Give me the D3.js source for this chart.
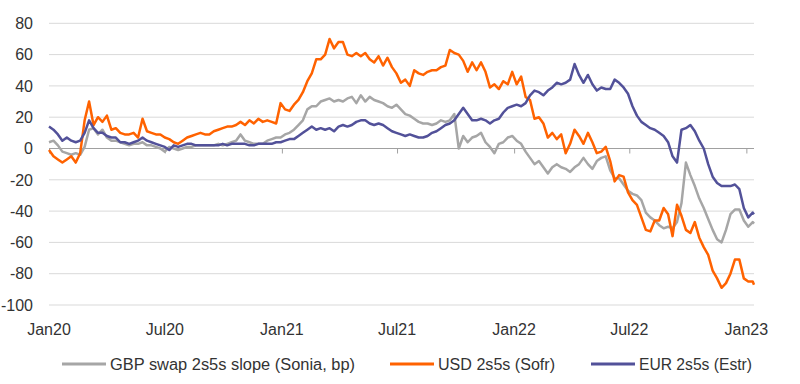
<!DOCTYPE html>
<html><head><meta charset="utf-8">
<script src="https://cdn.jsdelivr.net/npm/d3@7"></script>
<style>
html,body{margin:0;padding:0;background:#fff;}
svg{display:block;font-family:"Liberation Sans",Arial,sans-serif;}
</style></head>
<body><svg id="c" width="800" height="384"></svg>
<script>
const dates = [
"2020-01-01","2020-01-08","2020-01-15","2020-01-22","2020-01-29","2020-02-05","2020-02-12","2020-02-19","2020-02-26","2020-03-04",
"2020-03-11","2020-03-18","2020-03-25","2020-04-01","2020-04-08","2020-04-15","2020-04-22","2020-04-29","2020-05-06","2020-05-13",
"2020-05-20","2020-05-27","2020-06-03","2020-06-10","2020-06-17","2020-06-24","2020-07-01","2020-07-08","2020-07-15","2020-07-22",
"2020-07-29","2020-08-05","2020-08-12","2020-08-19","2020-08-26","2020-09-02","2020-09-09","2020-09-16","2020-09-23","2020-09-30",
"2020-10-07","2020-10-14","2020-10-21","2020-10-28","2020-11-04","2020-11-11","2020-11-18","2020-11-25","2020-12-02","2020-12-09",
"2020-12-16","2020-12-23","2020-12-30","2021-01-06","2021-01-13","2021-01-20","2021-01-27","2021-02-03","2021-02-10","2021-02-17",
"2021-02-24","2021-03-03","2021-03-10","2021-03-17","2021-03-24","2021-03-31","2021-04-07","2021-04-14","2021-04-21","2021-04-28",
"2021-05-05","2021-05-12","2021-05-19","2021-05-26","2021-06-02","2021-06-09","2021-06-16","2021-06-23","2021-06-30","2021-07-07",
"2021-07-14","2021-07-21","2021-07-28","2021-08-04","2021-08-11","2021-08-18","2021-08-25","2021-09-01","2021-09-08","2021-09-15",
"2021-09-22","2021-09-29","2021-10-06","2021-10-13","2021-10-20","2021-10-27","2021-11-03","2021-11-10","2021-11-17","2021-11-24",
"2021-12-01","2021-12-08","2021-12-15","2021-12-22","2021-12-29","2022-01-05","2022-01-12","2022-01-19","2022-01-26","2022-02-02",
"2022-02-09","2022-02-16","2022-02-23","2022-03-02","2022-03-09","2022-03-16","2022-03-23","2022-03-30","2022-04-06","2022-04-13",
"2022-04-20","2022-04-27","2022-05-04","2022-05-11","2022-05-18","2022-05-25","2022-06-01","2022-06-08","2022-06-15","2022-06-22",
"2022-06-29","2022-07-06","2022-07-13","2022-07-20","2022-07-27","2022-08-03","2022-08-10","2022-08-17","2022-08-24","2022-08-31",
"2022-09-07","2022-09-14","2022-09-21","2022-09-28","2022-10-05","2022-10-12","2022-10-19","2022-10-26","2022-11-02","2022-11-09",
"2022-11-16","2022-11-23","2022-11-30","2022-12-07","2022-12-14","2022-12-21","2022-12-28","2023-01-04","2023-01-11","2023-01-13"];

const gbp = [
4,5,2,-2,-3,-4,-3,-4,1,12,
13,9,12,7,5,5,4,3,2,3,
3,4,2,2,1,0,-2,1,0,-1,
0,1,1,2,2,2,2,2,3,2,
3,4,5,9,5,4,3,3,3,5,
6,7,7,9,10,12,15,18,25,27,
27,30,31,32,30,31,30,32,33,29,
34,30,33,31,30,29,27,26,28,25,
22,21,19,17,16,16,15,16,18,17,
18,22,0,8,4,7,8,10,4,1,
-3,3,4,7,8,5,3,-2,-6,-10,
-8,-12,-16,-12,-10,-12,-13,-15,-12,-10,
-6,-10,-13,-8,-6,-5,-14,-19,-19,-23,
-27,-29,-30,-33,-41,-44,-46,-49,-51,-50,
-51,-47,-35,-9,-17,-24,-32,-38,-45,-52,
-58,-60,-52,-42,-39,-39,-46,-50,-47,-48];

const usd = [
-1,-5,-7,-9,-7,-5,-9,-3,18,30,
15,20,17,21,12,13,10,9,9,10,
7,19,11,10,9,9,7,6,4,3,
5,7,8,9,10,9,9,11,12,13,
14,14,15,17,15,18,16,19,17,18,
17,16,29,25,24,28,31,36,43,48,
57,57,60,70,64,68,68,60,59,61,
59,61,57,55,59,53,58,52,48,42,
44,40,50,48,47,49,50,50,52,53,
63,61,60,56,49,55,50,55,49,39,
41,38,43,41,49,41,46,33,31,19,
20,16,7,10,6,9,-3,3,12,8,
3,10,4,-3,-2,1,-8,-21,-17,-18,
-28,-33,-36,-44,-52,-53,-46,-46,-38,-42,
-56,-36,-43,-52,-54,-47,-57,-63,-68,-78,
-83,-89,-86,-80,-71,-71,-83,-85,-85,-87];

const eur = [
14,12,9,5,7,5,4,5,10,18,
13,10,10,8,7,7,4,4,3,4,
5,7,5,4,3,2,1,-1,2,1,
2,3,3,2,2,2,2,2,2,3,
2,3,3,3,3,2,2,3,3,3,
3,4,4,5,6,6,8,10,12,14,
12,13,12,13,11,14,15,14,15,17,
18,18,16,15,16,15,13,11,10,9,
8,9,8,7,7,8,10,11,13,15,
16,18,22,26,22,18,18,19,18,16,
18,19,23,26,27,28,27,29,34,37,
36,34,37,39,42,41,42,44,54,47,
42,47,41,37,39,38,38,44,42,39,
35,27,21,17,15,13,12,10,8,4,
-5,-9,12,13,15,11,5,0,-10,-18,
-22,-24,-24,-24,-23,-26,-38,-44,-41,-42];

const seriesNames = ["GBP swap 2s5s slope (Sonia, bp)", "USD 2s5s (Sofr)", "EUR 2s5s (Estr)"];
const seriesColors = ["#a6a6a6", "#ff6200", "#525199"];
const yTicks = [80, 60, 40, 20, 0, -20, -40, -60, -80, -100];
const xTickDates = ["2020-01-01","2020-07-01","2021-01-01","2021-07-01","2022-01-01","2022-07-01","2023-01-01"];
const xTickLabels = ["Jan20","Jul20","Jan21","Jul21","Jan22","Jul22","Jan23"];

const parse = d3.timeParse("%Y-%m-%d");
const dts = dates.map(parse);
const svg = d3.select("#c");
const mLeft = 49, mRight = 754, mTop = 23.3, mBottom = 305;

const x = d3.scaleTime().domain([parse("2020-01-01"), parse("2023-01-13")]).range([mLeft, mRight]);
const y = d3.scaleLinear().domain([-100, 80]).range([mBottom, mTop]);

// gridlines
svg.append("g").selectAll("line").data(yTicks.filter(v => v !== 0)).join("line")
  .attr("x1", mLeft).attr("x2", mRight)
  .attr("y1", d => y(d)).attr("y2", d => y(d))
  .attr("stroke", "#d9d9d9").attr("stroke-width", 1);

// y labels
svg.append("g").selectAll("text").data(yTicks).join("text")
  .attr("x", 33).attr("y", d => y(d)).attr("dy", "0.36em")
  .attr("text-anchor", "end").attr("font-size", 16).attr("fill", "#333")
  .text(d => d);

// x axis at zero
const xAxis = d3.axisBottom(x).tickValues(xTickDates.map(parse)).tickSize(5).tickFormat("");
const gx = svg.append("g").attr("transform", `translate(0,${y(0)})`).call(xAxis);
gx.select(".domain").attr("stroke", "#a0a0a0").attr("d", `M${mLeft},0H${mRight}`);
gx.selectAll(".tick line").attr("stroke", "#a0a0a0");

// x labels
svg.append("g").selectAll("text").data(xTickDates).join("text")
  .attr("x", d => x(parse(d))).attr("y", 335)
  .attr("text-anchor", "middle").attr("font-size", 16).attr("fill", "#333")
  .text((d, i) => xTickLabels[i]);

// lines
const line = d3.line().x((d, i) => x(dts[i])).y(d => y(d));
[gbp, usd, eur].forEach((s, i) => {
  svg.append("path").datum(s).attr("d", line)
    .attr("fill", "none").attr("stroke", seriesColors[i])
    .attr("stroke-width", 2.5).attr("stroke-linejoin", "round");
});

// legend
const legX = [62, 390, 591];
const legW = [245, 117, 113];
const lg = svg.append("g");
seriesNames.forEach((n, i) => {
  lg.append("line").attr("x1", legX[i]).attr("x2", legX[i] + 44)
    .attr("y1", 364).attr("y2", 364)
    .attr("stroke", seriesColors[i]).attr("stroke-width", 3);
  lg.append("text").attr("x", legX[i] + 48).attr("y", 364).attr("dy", "0.36em")
    .attr("font-size", 16).attr("fill", "#333")
    .attr("textLength", legW[i]).attr("lengthAdjust", "spacingAndGlyphs")
    .text(n);
});
</script></body></html>
